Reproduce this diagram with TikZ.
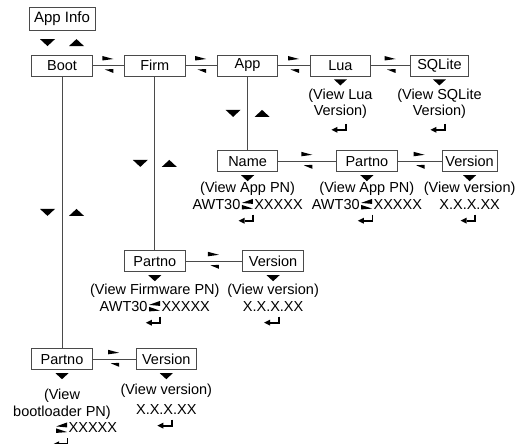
\documentclass[tikz,border=0pt]{standalone}
\usepackage{fontspec}
\setmainfont{Liberation Sans}
\usetikzlibrary{calc,positioning}
\definecolor{boxgray}{HTML}{4A4A4A}
\newcommand{\swapmark}{\hspace{1.5pt}\tikz[x=1pt,y=1pt,baseline=0pt]{\fill (0,6.5) -- (11,10.5) -- (11,5.5) -- cycle; \fill (0,4.5) -- (0,0) -- (11,0.8) -- cycle;}\hspace{1.5pt}}

\begin{document}
\begin{tikzpicture}[
  x=1pt, y=1pt,
  font=\fontsize{14.5}{16.5}\selectfont,
  node distance=31.5pt,
  box/.style={draw=boxgray,line width=0.8pt,minimum width=60.5pt,minimum height=21pt,inner xsep=3.5pt,inner ysep=0pt},
  info/.style={align=center,inner sep=0pt},
  ln/.style={draw=boxgray,line width=0.8pt},
  ptr/.pic={\fill (-6.5,-3) -- (6.5,-3) -- (0,-9) -- cycle;},
  updown/.pic={\fill (-22,3.5) -- (-7,3.5) -- (-14.5,-3.5) -- cycle; \fill (7,-3.5) -- (22,-3.5) -- (14.5,3.5) -- cycle;},
  swap/.pic={\fill (-6,9.5) -- (5,6.5) -- (-6,5) -- cycle; \fill (5,-3.5) -- (-3.5,-4) -- (5,-7.5) -- cycle;},
  enter/.pic={\draw[line width=1.8pt] (5.5,6) -- (5.5,0) -- (-3,0); \fill (-9,0) -- (-3,3) -- (-3,-3) -- cycle;}
]
\useasboundingbox (0,0) rectangle (520,-444);
\node[box] (boot) at (62,-65.5) {Boot};
\node[box,minimum width=66pt,minimum height=23pt,font=\fontsize{15}{17}\selectfont,above=24pt of boot] (appinfo) {App Info};
\node[box,right=of boot] (firm) {Firm};
\node[box,right=of firm] (app) {App};
\node[box,right=of app] (lua) {Lua};
\node[box,minimum width=58pt,right=39pt of lua] (sqlite) {SQLite};
\node[box,below=74pt of app] (name) {Name};
\node[box,right=58pt of name] (apppn) {Partno};
\node[box,minimum width=54pt,right=44pt of apppn] (appver) {Version};
\node[box,below=174pt of firm] (fwpn) {Partno};
\node[box,right=57pt of fwpn] (fwver) {Version};
\node[box,below=272pt of boot] (blpn) {Partno};
\node[box,right=43pt of blpn] (blver) {Version};

\node[info,below=12pt of lua] (luai) {(View Lua\\Version)};
\node[info,below=12pt of sqlite] (sqlitei) {(View SQLite\\Version)};
\node[info,below=10pt of name] (namei) {(View App PN)\\AWT30\swapmark XXXXX};
\node[info,below=10pt of apppn] (apppni) {(View App PN)\\AWT30\swapmark XXXXX};
\node[info,below=10pt of appver] (appveri) {(View version)\\X.X.X.XX};
\node[info,below=12pt of fwpn] (fwpni) {(View Firmware PN)\\AWT30\swapmark XXXXX};
\node[info,below=12pt of fwver] (fwveri) {(View version)\\X.X.X.XX};
\node[info,below=19pt of blpn] (blpni) {(View\\bootloader PN)\\\phantom{AWT30}\swapmark XXXXX};
\node[info,below=14pt of blver] (blveri) {(View version)\\[3pt]X.X.X.XX};

\foreach \a/\b in {boot/firm,firm/app,app/lua,lua/sqlite,name/apppn,apppn/appver,fwpn/fwver,blpn/blver}{
  \draw[ln] (\a) -- (\b);
  \pic at ($(\a.east)!.5!(\b.west)$) {swap};
}
\foreach \a/\b in {boot/blpn,firm/fwpn,app/name}{
  \draw[ln] (\a) -- (\b);
  \pic at ($(\a.south)!.5!(\b.north)$) {updown};
}
\pic at ($(appinfo.south)!.5!(boot.north)$) {updown};
\foreach \n in {lua,sqlite,name,apppn,appver,fwpn,fwver,blpn,blver}
  \pic at (\n.south) {ptr};
\foreach \n in {luai,sqlitei,namei,apppni,appveri,fwpni,fwveri,blpni,blveri}
  \pic at ([yshift=-11pt]\n.south) {enter};
\end{tikzpicture}
\end{document}
